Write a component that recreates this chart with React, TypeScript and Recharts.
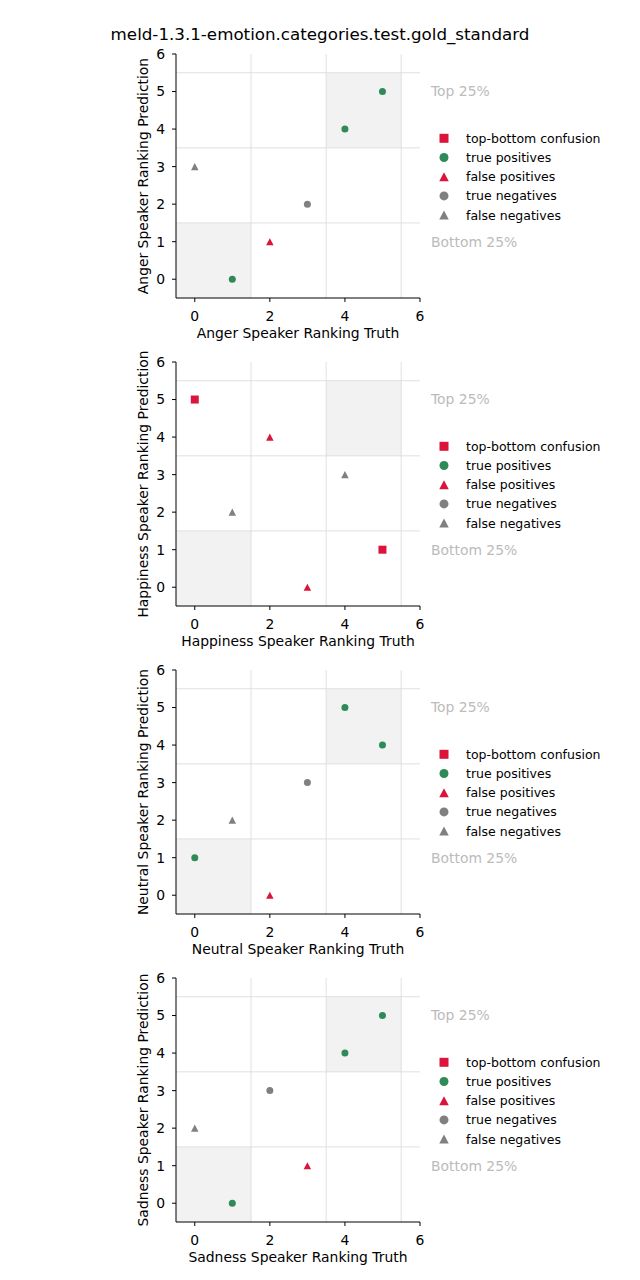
import React from "react";
import { ScatterChart, Scatter, XAxis, YAxis, ReferenceArea, ReferenceLine } from "recharts";

const title = "meld-1.3.1-emotion.categories.test.gold_standard";
const emotions = ["Anger", "Happiness", "Neutral", "Sadness"];
const categories = ["top-bottom confusion", "true positives", "false positives", "true negatives", "false negatives"];
const categoryColors = ["#dc143c", "#2e8b57", "#dc143c", "#808080", "#808080"];
const categoryShapes = ["square", "circle", "triangle", "circle", "triangle"];
const xTicks = [0, 2, 4, 6];
const yTicks = [0, 1, 2, 3, 4, 5, 6];
const boundaries = [1.5, 3.5, 5.5];

// [truth, prediction] pairs, one list per category (same order as `categories`)
const angerPoints = [[], [[1, 0], [4, 4], [5, 5]], [[2, 1]], [[3, 2]], [[0, 3]]];
const happinessPoints = [[[0, 5], [5, 1]], [], [[2, 4], [3, 0]], [], [[1, 2], [4, 3]]];
const neutralPoints = [[], [[0, 1], [4, 5], [5, 4]], [[2, 0]], [[3, 3]], [[1, 2]]];
const sadnessPoints = [[], [[1, 0], [4, 4], [5, 5]], [[3, 1]], [[2, 3]], [[0, 2]]];
const panelPoints = [angerPoints, happinessPoints, neutralPoints, sadnessPoints];

const FONT = "DejaVu Sans";

function marker(shape: string, color: string, cx: number, cy: number, s: number) {
  if (shape === "square") {
    return <rect x={cx - s / 2} y={cy - s / 2} width={s} height={s} fill={color} />;
  }
  if (shape === "triangle") {
    const h = s * 0.95;
    return (
      <polygon
        points={`${cx},${cy - h / 2} ${cx - s / 2},${cy + h / 2} ${cx + s / 2},${cy + h / 2}`}
        fill={color}
      />
    );
  }
  return <circle cx={cx} cy={cy} r={s / 2} fill={color} />;
}

const plotSize: Record<string, number> = { square: 8, circle: 7, triangle: 7.5 };
const legendSize: Record<string, number> = { square: 9, circle: 9, triangle: 9.5 };

function Legend() {
  return (
    <svg width={200} height={110} style={{ position: "absolute", left: 430, top: 95, overflow: "visible" }}>
      {categories.map((c, i) => {
        const y = 9.3 + i * 19.2;
        return (
          <g key={c}>
            {marker(categoryShapes[i], categoryColors[i], 14, y, legendSize[categoryShapes[i]])}
            <text x={36} y={y} dominantBaseline="central" fontSize={12.5} fontFamily={FONT} fill="#000">
              {c}
            </text>
          </g>
        );
      })}
    </svg>
  );
}

function Panel({ emotion, points }: { emotion: string; points: number[][][] }) {
  return (
    <div style={{ position: "relative", width: 640, height: 308 }}>
      <ScatterChart width={640} height={308} margin={{ top: 20, right: 220, bottom: 14, left: 130 }}>
        <ReferenceArea x1={-0.5} x2={1.5} y1={-0.5} y2={1.5} fill="#f2f2f2" fillOpacity={1} stroke="none" />
        <ReferenceArea x1={3.5} x2={5.5} y1={3.5} y2={5.5} fill="#f2f2f2" fillOpacity={1} stroke="none" />
        {boundaries.map((b) => (
          <ReferenceLine key={`x${b}`} x={b} stroke="#dcdcdc" strokeWidth={0.9} />
        ))}
        {boundaries.map((b) => (
          <ReferenceLine key={`y${b}`} y={b} stroke="#dcdcdc" strokeWidth={0.9} />
        ))}
        <ReferenceLine
          y={5}
          stroke="none"
          label={{ value: "Top 25%", position: "right", offset: 11, fill: "#bbbbbb", fontSize: 13.9, fontFamily: FONT }}
        />
        <ReferenceLine
          y={1}
          stroke="none"
          label={{ value: "Bottom 25%", position: "right", offset: 11, fill: "#bbbbbb", fontSize: 13.9, fontFamily: FONT }}
        />
        <XAxis
          type="number"
          dataKey="x"
          domain={[-0.5, 6]}
          ticks={xTicks}
          height={30}
          tickSize={4}
          tickMargin={9}
          stroke="#000"
          tick={{ fill: "#000", fontSize: 13.9, fontFamily: FONT }}
          label={{
            content: ({ viewBox }: any) => (
              <text
                x={viewBox.x + viewBox.width / 2}
                y={viewBox.y + 40}
                textAnchor="middle"
                fontSize={13.9}
                fontFamily={FONT}
                fill="#000"
              >
                {`${emotion} Speaker Ranking Truth`}
              </text>
            ),
          }}
        />
        <YAxis
          type="number"
          dataKey="y"
          domain={[-0.5, 6]}
          ticks={yTicks}
          width={46}
          tickSize={4}
          tickMargin={7}
          stroke="#000"
          tick={{ fill: "#000", fontSize: 13.9, fontFamily: FONT }}
          label={{
            content: ({ viewBox }: any) => {
              const x = viewBox.x + 18;
              const y = viewBox.y + viewBox.height / 2;
              return (
                <text
                  x={x}
                  y={y}
                  transform={`rotate(-90, ${x}, ${y})`}
                  textAnchor="middle"
                  fontSize={13.9}
                  fontFamily={FONT}
                  fill="#000"
                >
                  {`${emotion} Speaker Ranking Prediction`}
                </text>
              );
            },
          }}
        />
        {categories.map((c, i) => (
          <Scatter
            key={c}
            name={c}
            data={points[i].map(([x, y]) => ({ x, y }))}
            isAnimationActive={false}
            shape={(p: any) => marker(categoryShapes[i], categoryColors[i], p.cx, p.cy, plotSize[categoryShapes[i]])}
          />
        ))}
      </ScatterChart>
      <Legend />
    </div>
  );
}

export default function App() {
  return (
    <div style={{ position: "absolute", left: 0, top: 0, width: 640, height: 1280, background: "#fff", fontFamily: FONT }}>
      <svg width={640} height={50} style={{ position: "absolute", left: 0, top: 0 }}>
        <text x={320} y={40} textAnchor="middle" fontSize={16.7} fontFamily={FONT} fill="#000">
          {title}
        </text>
      </svg>
      {emotions.map((e, i) => (
        <div key={e} style={{ position: "absolute", left: 0, top: 34 + i * 308 }}>
          <Panel emotion={e} points={panelPoints[i]} />
        </div>
      ))}
    </div>
  );
}
